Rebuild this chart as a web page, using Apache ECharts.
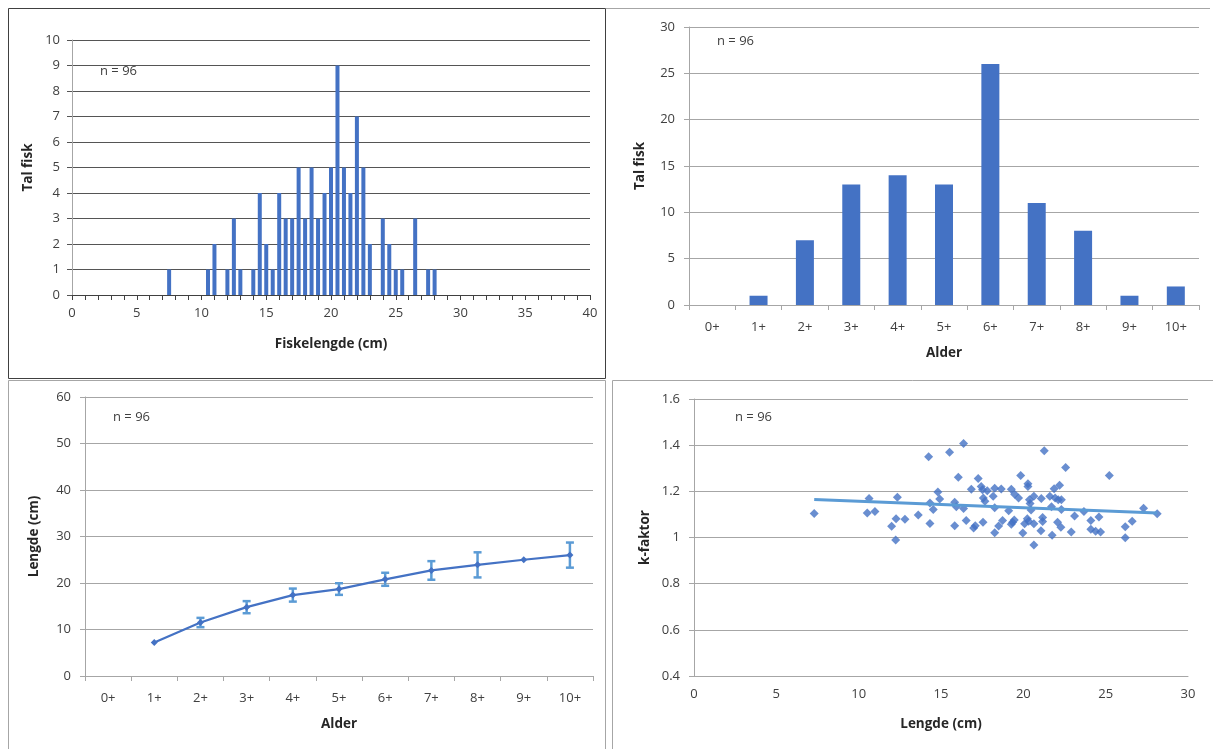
<!DOCTYPE html>
<html>
<head>
<meta charset="utf-8">
<script src="https://cdn.jsdelivr.net/npm/echarts@6/dist/echarts.min.js"></script>
<style>
html,body{margin:0;padding:0;background:#fff;}
#c{width:1213px;height:749px;}
</style>
</head>
<body>
<div id="c"></div>
<script>
// ---- Data ----
// Length histogram (0.5 cm bins)
var lengthBins   = [7.5, 10.5, 11, 12, 12.5, 13, 14, 14.5, 15, 15.5, 16, 16.5, 17, 17.5, 18, 18.5, 19, 19.5, 20, 20.5, 21, 21.5, 22, 22.5, 23, 24, 24.5, 25, 25.5, 26.5, 27.5, 28];
var lengthCounts = [1,   1,    2,  1,  3,    1,  1,  4,    2,  1,    4,  3,    3,  5,    3,  5,    3,  4,    5,  9,    5,  4,    7,  5,    2,  3,  2,    1,  1,    3,    1,    1];

// Age distribution
var ageCats   = ['0+', '1+', '2+', '3+', '4+', '5+', '6+', '7+', '8+', '9+', '10+'];
var ageCounts = [0, 1, 7, 13, 14, 13, 26, 11, 8, 1, 2];

// Mean length per age with standard deviation
var meanLength = [null, 7.2, 11.5, 14.8, 17.4, 18.7, 20.8, 22.7, 23.9, 25.0, 26.0];
var lengthSD   = [null, 0, 1.0, 1.3, 1.4, 1.25, 1.4, 2.0, 2.7, 0, 2.7];

// k-factor vs length
var scatterLen = [7.3, 10.63, 10.52, 10.99, 12.35, 12.27, 12.0, 12.25, 12.81, 13.62,
  14.25, 14.33, 14.53, 14.33, 14.81, 14.92, 15.52, 16.37, 16.05, 15.83,
  15.93, 16.37, 15.83, 16.53, 16.84, 17.26, 17.44, 17.52, 17.81, 17.57,
  17.67, 16.98, 17.08, 17.55, 18.26, 18.66, 18.17, 18.26, 18.26, 18.5,
  18.74, 19.11, 19.27, 19.47, 19.71, 19.84, 19.35, 19.45, 19.27, 19.97,
  20.28, 20.28, 20.64, 20.37, 20.41, 20.47, 20.24, 20.32, 20.08, 20.64,
  20.64, 21.09, 21.27, 21.17, 21.17, 21.07, 21.61, 21.71, 21.75, 21.87,
  22.2, 21.93, 22.12, 22.31, 22.31, 22.08, 22.28, 22.57, 22.91, 23.11,
  23.68, 24.1, 24.1, 24.59, 24.39, 24.69, 25.22, 26.19, 26.61, 26.19,
  27.3, 28.13];
var scatterK = [1.104, 1.169, 1.106, 1.113, 1.174, 1.081, 1.049, 0.989, 1.079, 1.097,
  1.35, 1.15, 1.121, 1.061, 1.197, 1.167, 1.369, 1.407, 1.261, 1.153,
  1.133, 1.126, 1.051, 1.074, 1.209, 1.256, 1.221, 1.207, 1.203, 1.171,
  1.157, 1.041, 1.051, 1.066, 1.213, 1.21, 1.179, 1.129, 1.021, 1.05,
  1.074, 1.116, 1.209, 1.187, 1.171, 1.269, 1.066, 1.076, 1.057, 1.019,
  1.233, 1.221, 1.179, 1.164, 1.147, 1.119, 1.081, 1.07, 1.06, 1.06,
  0.967, 1.169, 1.376, 1.087, 1.069, 1.029, 1.179, 1.133, 1.01, 1.211,
  1.226, 1.171, 1.164, 1.164, 1.121, 1.066, 1.044, 1.303, 1.024, 1.093,
  1.113, 1.074, 1.036, 1.089, 1.027, 1.024, 1.269, 1.047, 1.07, 0.999,
  1.127, 1.103];

var nLabel = 'n = 96';

// ---- Build ----
var FONT = '"Open Sans", "Noto Sans", sans-serif';
var TXT = '#404040';
var BLUE = '#4472C4';
var LBLUE = '#5B9BD5';

var histData = lengthBins.map(function (b, i) { return [b, lengthCounts[i]]; });
var scatterData = scatterLen.map(function (x, i) { return [x, scatterK[i]]; });
var errData = [];
meanLength.forEach(function (m, i) {
  if (m != null && lengthSD[i] > 0) errData.push([i, m - lengthSD[i], m + lengthSD[i]]);
});
var lineData = meanLength.map(function (m) { return m == null ? '-' : m; });

// least-squares trend line
var n = scatterLen.length, sx = 0, sy = 0, sxx = 0, sxy = 0;
for (var i = 0; i < n; i++) { sx += scatterLen[i]; sy += scatterK[i]; sxx += scatterLen[i]*scatterLen[i]; sxy += scatterLen[i]*scatterK[i]; }
var slope = (n*sxy - sx*sy) / (n*sxx - sx*sx);
var icpt = (sy - slope*sx) / n;
var xmin = Math.min.apply(null, scatterLen), xmax = Math.max.apply(null, scatterLen);
var trendData = [[xmin, icpt + slope*xmin], [xmax, icpt + slope*xmax]];

function lab(size, margin) { return { color: TXT, fontFamily: FONT, fontSize: size || 13, margin: margin || 10 }; }
function nameStyle() { return { color: '#262626', fontFamily: FONT, fontSize: 13.5, fontWeight: 'bold' }; }

var chart = echarts.init(document.getElementById('c'), null, { renderer: 'canvas' });
chart.setOption({
  backgroundColor: '#fff',
  animation: false,
  grid: [
    { left: 72, top: 40, width: 518, height: 255 },
    { left: 689, top: 27, width: 510, height: 278 },
    { left: 85, top: 397, width: 508, height: 279 },
    { left: 694, top: 399, width: 494, height: 277 }
  ],
  xAxis: [
    { gridIndex: 0, type: 'value', min: 0, max: 40, interval: 5,
      name: 'Fiskelengde (cm)', nameLocation: 'middle', nameGap: 42, nameTextStyle: nameStyle(),
      axisLine: { show: true, lineStyle: { color: '#404040' } },
      axisTick: { show: true, length: 5, lineStyle: { color: '#404040' } },
      minorTick: { show: true, splitNumber: 5, length: 5, lineStyle: { color: '#404040' } },
      axisLabel: lab(13, 12), splitLine: { show: false } },
    { gridIndex: 1, type: 'category', data: ageCats,
      name: 'Alder', nameLocation: 'middle', nameGap: 41, nameTextStyle: nameStyle(),
      axisLine: { show: true, lineStyle: { color: '#A6A6A6' } },
      axisTick: { show: true, length: 5, alignWithLabel: false, lineStyle: { color: '#A6A6A6' } },
      axisLabel: lab(13, 16) },
    { gridIndex: 2, type: 'category', data: ageCats,
      name: 'Alder', nameLocation: 'middle', nameGap: 41, nameTextStyle: nameStyle(),
      axisLine: { show: true, lineStyle: { color: '#A6A6A6' } },
      axisTick: { show: true, length: 5, lineStyle: { color: '#A6A6A6' } },
      axisLabel: lab(13, 16) },
    { gridIndex: 3, type: 'value', min: 0, max: 30, interval: 5,
      name: 'Lengde (cm)', nameLocation: 'middle', nameGap: 41, nameTextStyle: nameStyle(),
      axisLine: { show: true, lineStyle: { color: '#A6A6A6' } },
      axisTick: { show: false },
      axisLabel: lab(13, 12), splitLine: { show: false } }
  ],
  yAxis: [
    { gridIndex: 0, type: 'value', min: 0, max: 10, interval: 1,
      name: 'Tal fisk', nameLocation: 'middle', nameGap: 37, nameTextStyle: nameStyle(),
      axisLine: { show: true, lineStyle: { color: '#A6A6A6' } },
      axisTick: { show: true, length: 5, lineStyle: { color: '#555' } },
      axisLabel: lab(13, 12), splitLine: { show: true, lineStyle: { color: '#555', width: 1 } } },
    { gridIndex: 1, type: 'value', min: 0, max: 30, interval: 5,
      name: 'Tal fisk', nameLocation: 'middle', nameGap: 42, nameTextStyle: nameStyle(),
      axisLine: { show: true, lineStyle: { color: '#A6A6A6' } },
      axisTick: { show: true, length: 5, lineStyle: { color: '#A6A6A6' } },
      axisLabel: lab(13, 14), splitLine: { show: true, lineStyle: { color: '#A6A6A6' } } },
    { gridIndex: 2, type: 'value', min: 0, max: 60, interval: 10,
      name: 'Lengde (cm)', nameLocation: 'middle', nameGap: 44, nameTextStyle: nameStyle(),
      axisLine: { show: true, lineStyle: { color: '#A6A6A6' } },
      axisTick: { show: true, length: 5, lineStyle: { color: '#A6A6A6' } },
      axisLabel: lab(13, 14), splitLine: { show: true, lineStyle: { color: '#A6A6A6' } } },
    { gridIndex: 3, type: 'value', min: 0.4, max: 1.6, interval: 0.2,
      name: 'k-faktor', nameLocation: 'middle', nameGap: 42, nameTextStyle: nameStyle(),
      axisLine: { show: true, lineStyle: { color: '#A6A6A6' } },
      axisTick: { show: true, length: 5, lineStyle: { color: '#A6A6A6' } },
      axisLabel: Object.assign(lab(13, 14), { formatter: function (v) { return (Math.round(v*10)/10).toString(); } }),
      splitLine: { show: true, lineStyle: { color: '#A6A6A6' } } }
  ],
  series: [
    { type: 'bar', xAxisIndex: 0, yAxisIndex: 0, data: histData, barWidth: 4,
      itemStyle: { color: BLUE } },
    { type: 'bar', xAxisIndex: 1, yAxisIndex: 1, data: ageCounts, barWidth: 18,
      itemStyle: { color: BLUE } },
    { type: 'line', xAxisIndex: 2, yAxisIndex: 2, data: lineData, symbol: 'diamond', symbolSize: 7,
      lineStyle: { color: BLUE, width: 2.25 }, itemStyle: { color: BLUE }, z: 3 },
    { type: 'custom', xAxisIndex: 2, yAxisIndex: 2, data: errData, z: 2,
      renderItem: function (params, api) {
        var x = api.value(0);
        var lo = api.coord([x, api.value(1)]);
        var hi = api.coord([x, api.value(2)]);
        var w = 4;
        var st = { stroke: LBLUE, lineWidth: 2.5 };
        return { type: 'group', children: [
          { type: 'line', shape: { x1: lo[0], y1: lo[1], x2: hi[0], y2: hi[1] }, style: st },
          { type: 'line', shape: { x1: lo[0]-w, y1: lo[1], x2: lo[0]+w, y2: lo[1] }, style: st },
          { type: 'line', shape: { x1: hi[0]-w, y1: hi[1], x2: hi[0]+w, y2: hi[1] }, style: st }
        ] };
      } },
    { type: 'scatter', xAxisIndex: 3, yAxisIndex: 3, data: scatterData, symbol: 'diamond', symbolSize: 9,
      itemStyle: { color: BLUE } },
    { type: 'line', xAxisIndex: 3, yAxisIndex: 3, data: trendData, symbol: 'none',
      lineStyle: { color: LBLUE, width: 3 }, z: 3 }
  ],
  graphic: [
    { type: 'rect', shape: { x: 8.5, y: 8.5, width: 597, height: 370 }, style: { fill: 'none', stroke: '#404040', lineWidth: 1 }, silent: true },
    { type: 'line', shape: { x1: 606, y1: 8.5, x2: 1210, y2: 8.5 }, style: { stroke: '#A6A6A6', lineWidth: 1 }, silent: true },
    { type: 'rect', shape: { x: 8.5, y: 380.5, width: 597, height: 370 }, style: { fill: 'none', stroke: '#A6A6A6', lineWidth: 1 }, silent: true },
    { type: 'line', shape: { x1: 612.5, y1: 380.5, x2: 612.5, y2: 749 }, style: { stroke: '#A6A6A6', lineWidth: 1 }, silent: true },
    { type: 'line', shape: { x1: 612.5, y1: 380.5, x2: 1213, y2: 380.5 }, style: { stroke: '#A6A6A6', lineWidth: 1 }, silent: true },
    { type: 'text', x: 100, y: 65, style: { text: nLabel, fill: TXT, font: '13px ' + FONT } },
    { type: 'text', x: 717, y: 35, style: { text: nLabel, fill: TXT, font: '13px ' + FONT } },
    { type: 'text', x: 113, y: 411, style: { text: nLabel, fill: TXT, font: '13px ' + FONT } },
    { type: 'text', x: 735, y: 411, style: { text: nLabel, fill: TXT, font: '13px ' + FONT } }
  ]
});
</script>
</body>
</html>
